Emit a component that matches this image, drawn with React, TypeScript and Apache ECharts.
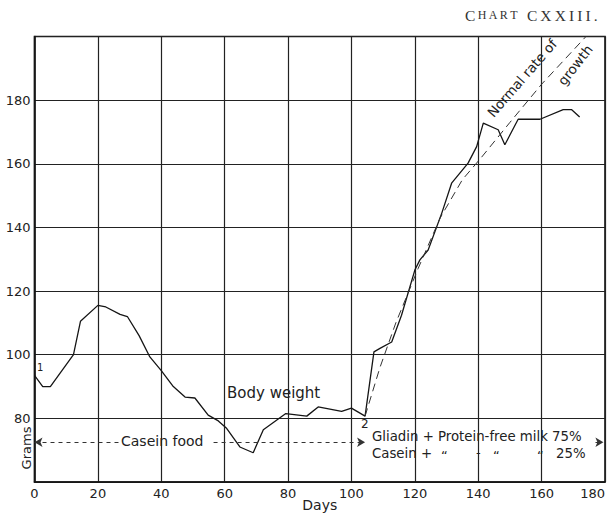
import React, { useEffect, useRef } from 'react';
import * as echarts from 'echarts';

// Body weight (days, grams)
const weightDays = [0, 2.6, 5, 12.3, 14.5, 20, 22.5, 27, 29.3, 33, 36.4, 40, 43.8, 47.5, 50.6, 54.8, 58, 60.5, 64.8, 69, 72.2, 79.3, 85.9, 89.5, 96.9, 100, 104.3, 107.1, 109, 112.7, 115.8, 120, 121.6, 124.2, 128.5, 131.6, 136.8, 139.5, 141.6, 146.3, 148.4, 152.6, 159.5, 166.8, 169.5, 172];
const weightGrams = [93.5, 90, 90, 100, 110.5, 115.5, 115, 112.7, 112, 106, 99.3, 95, 90, 86.7, 86.4, 81, 79.2, 77, 71, 69.2, 76.4, 81.5, 80.7, 83.6, 82.2, 83.2, 80.7, 100.9, 102, 104, 112.4, 126.6, 129.8, 132.9, 144.5, 153.9, 160.2, 165.4, 172.8, 170.7, 166, 174, 174, 177, 177, 174.7];

// Normal rate of growth (dashed)
const normalDays = [104.3, 109, 114, 121, 128, 135, 141, 150, 160, 174];
const normalGrams = [80.7, 96, 110, 127, 143, 155, 162, 173, 185, 200];

// Diet period marker level (grams)
const dietLevel = 72.5;
const caseinStart = 0;
const caseinEnd = 104.3;
const gliadinEnd = 179.5;

const xMin = 0, xMax = 180, xStep = 20;
const yMin = 60, yMax = 200, yStep = 20;

const INK = '#151515';
const FONT = 'DejaVu Sans';
const SP = '\u2009';

export default function App() {
  const ref = useRef<HTMLDivElement>(null);
  useEffect(() => {
    if (!ref.current) return;
    const chart = echarts.init(ref.current, undefined, { renderer: 'svg' });
    const pairs = (xs: number[], ys: number[]) => xs.map((x, i) => [x, ys[i]]);
    const spaced = (s: string) => s.split('').join(SP);
    chart.setOption({
      animation: false,
      backgroundColor: '#ffffff',
      grid: {
        left: 34.5, right: 10, top: 36.5, bottom: 33, show: true,
        borderColor: INK, borderWidth: 1.6, containLabel: false, outerBoundsMode: 'none',
      },
      xAxis: {
        type: 'value', min: xMin, max: xMax, interval: xStep,
        name: 'Days', nameLocation: 'middle', nameGap: 16, nameMoveOverlap: false,
        nameTextStyle: { fontFamily: FONT, fontSize: 14, color: '#222' },
        axisLine: { show: true, lineStyle: { color: INK, width: 1.6 } },
        axisTick: { show: false },
        axisLabel: { margin: 5, fontFamily: FONT, fontSize: 13, color: '#222', alignMaxLabel: 'right' },
        splitLine: { show: true, lineStyle: { color: '#222', width: 1.2 } },
      },
      yAxis: {
        type: 'value', min: yMin, max: yMax, interval: yStep,
        axisLine: { show: true, lineStyle: { color: INK, width: 1.6 } },
        axisTick: { show: false },
        axisLabel: {
          margin: 4, fontFamily: FONT, fontSize: 13, color: '#222',
          formatter: (v: number) => (v === yMin || v === yMax ? '' : String(v)),
        },
        splitLine: { show: true, lineStyle: { color: '#222', width: 1.2 } },
      },
      series: [
        {
          name: 'Body weight', type: 'line', data: pairs(weightDays, weightGrams),
          symbol: 'none', lineStyle: { color: INK, width: 1.3 },
        },
        {
          name: 'Normal rate of growth', type: 'line', data: pairs(normalDays, normalGrams),
          symbol: 'none', lineStyle: { color: '#333', width: 1, type: [8, 5] },
        },
        {
          name: 'Diet', type: 'line', data: [],
          markLine: {
            silent: true, symbolSize: [7, 8],
            label: { show: false },
            lineStyle: { color: '#333', width: 1, type: [4, 4] },
            data: [
              [{ coord: [caseinStart, dietLevel], symbol: 'arrow' }, { coord: [26.5, dietLevel], symbol: 'none' }],
              [{ coord: [56.5, dietLevel], symbol: 'none' }, { coord: [caseinEnd, dietLevel], symbol: 'arrow' }],
              [{ coord: [177, dietLevel], symbol: 'none' }, { coord: [gliadinEnd, dietLevel], symbol: 'arrow' }],
            ],
          },
        },
      ],
      graphic: [
        {
          type: 'text', x: 465, y: 7,
          style: {
            text: '{b|C}{s|' + SP + spaced('HART') + '}{b|' + SP + SP + SP + spaced('CXXIII.') + '}',
            rich: {
              b: { fontFamily: 'Liberation Serif', fontSize: 15.5, fill: '#333' },
              s: { fontFamily: 'Liberation Serif', fontSize: 12, fill: '#333' },
            },
          },
        },
        { type: 'text', x: 227, y: 385, style: { text: 'Body weight', fontFamily: FONT, fontSize: 15, fill: '#222' } },
        { type: 'text', x: 121, y: 434, style: { text: 'Casein food', fontFamily: FONT, fontSize: 14, fill: '#222' } },
        { type: 'text', x: 37, y: 362, style: { text: '1', fontFamily: FONT, fontSize: 10, fill: '#222' } },
        { type: 'text', x: 361, y: 418, style: { text: '2', fontFamily: FONT, fontSize: 12, fill: '#222' } },
        { type: 'text', x: 372, y: 430, style: { text: 'Gliadin + Protein-free milk 75%', fontFamily: FONT, fontSize: 13.3, fill: '#222' } },
        { type: 'text', x: 372, y: 447, style: { text: 'Casein +', fontFamily: FONT, fontSize: 13.3, fill: '#222' } },
        { type: 'text', x: 441, y: 449, style: { text: '\u201C', fontFamily: FONT, fontSize: 13, fill: '#222' } },
        { type: 'text', x: 476, y: 446, style: { text: '-', fontFamily: FONT, fontSize: 13, fill: '#222' } },
        { type: 'text', x: 493, y: 449, style: { text: '\u201C', fontFamily: FONT, fontSize: 13, fill: '#222' } },
        { type: 'text', x: 537, y: 449, style: { text: '\u201C', fontFamily: FONT, fontSize: 13, fill: '#222' } },
        { type: 'text', x: 556, y: 447, style: { text: '25%', fontFamily: FONT, fontSize: 13.3, fill: '#222' } },
        {
          type: 'text', x: 522, y: 78, rotation: (49 * Math.PI) / 180,
          style: { text: 'Normal rate of', fontFamily: FONT, fontSize: 13.5, fill: '#222', align: 'center', verticalAlign: 'middle' },
        },
        {
          type: 'text', x: 575, y: 65, rotation: (52 * Math.PI) / 180,
          style: { text: 'growth', fontFamily: FONT, fontSize: 13.5, fill: '#222', align: 'center', verticalAlign: 'middle' },
        },
        {
          type: 'text', x: 26, y: 448, rotation: Math.PI / 2,
          style: { text: 'Grams', fontFamily: FONT, fontSize: 13, fill: '#222', align: 'center', verticalAlign: 'middle' },
        },
      ],
    });
    return () => chart.dispose();
  }, []);
  return <div ref={ref} style={{ position: 'fixed', left: 0, top: 0, width: 615, height: 515, background: '#fff' }} />;
}
